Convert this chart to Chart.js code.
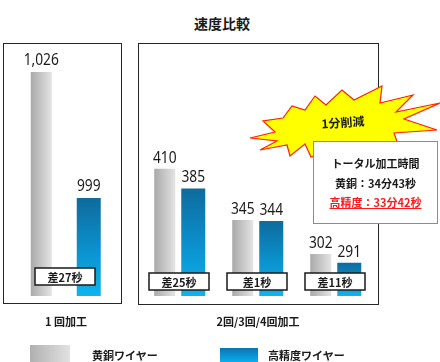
<!DOCTYPE html>
<html lang="ja">
<head>
<meta charset="utf-8">
<script src="https://cdn.jsdelivr.net/npm/chart.js@4.4.1/dist/chart.umd.min.js"></script>
<style>
  html, body { margin: 0; padding: 0; background: #fff; }
  #page { position: relative; width: 440px; height: 362px; overflow: hidden;
          font-family: "Noto Sans CJK JP", "Noto Sans", sans-serif; color: #1a1a1a; }
  .frame { position: absolute; box-sizing: border-box; border: 1.5px solid #262626; }
  .txt { position: absolute; white-space: nowrap; line-height: 1; font-weight: 700; font-size: 11px;
         transform: translate(-50%, -50%); }
  .left { transform: translate(0, -50%); }
  canvas { position: absolute; }
  #burst { position: absolute; left: 0; top: 0; }
  #info { position: absolute; left: 313px; top: 141px; width: 125px; height: 83px; box-sizing: border-box;
          background: #fff; border: 1px solid #8c8c8c; }
  #info div { position: absolute; left: 0; width: 100%; text-align: center; font-size: 11px; font-weight: 700;
              line-height: 1; white-space: nowrap; }
  .swatch { position: absolute; }
</style>
</head>
<body>
<div id="page">
  <div class="txt" style="left:222px; top:23px; font-size:14px;">速度比較</div>

  <div class="frame" style="left:3px; top:43px; width:119px; height:261px;"></div>
  <div class="frame" style="left:138px; top:43px; width:241px; height:262px;"></div>

  <canvas id="leftChart" width="118" height="253" style="left:3px; top:43px;"></canvas>
  <canvas id="rightChart" width="240" height="253" style="left:138px; top:43px;"></canvas>

  <svg id="burst" width="440" height="362">
    <polygon fill="#ffff00" stroke="#ff2200" stroke-width="1.2" stroke-linejoin="miter"
      points="250,138 275,132 263,121 283,118 292,106 305,110 315,96 326,105 342,90 354,100 382,86 380,103 413,95 396,112 440,103 404,119 437,130 394,133 400,150 360,146 335,150 311,157 305,144 290,156 287,145 260,150 277,141"/>
    <text x="343" y="127" text-anchor="middle" font-family="Noto Sans CJK JP" font-weight="700" font-size="12"
      fill="#1a1a1a" transform="rotate(-4 343 123)">1分削減</text>
  </svg>

  <div id="info"></div>

  <div id="groupLabels"></div>
  <div id="legend"></div>
</div>

<script>
// 値（秒）
const groups = ['1 回加工', '2回/3回/4回加工'];
const seriesNames = ['黄銅ワイヤー', '高精度ワイヤー'];

const brassFirst = [1026];
const precisionFirst = [999];
const diffFirst = ['差27秒'];

const brassRepeat = [410, 345, 302];
const precisionRepeat = [385, 344, 291];
const diffRepeat = ['差25秒', '差1秒', '差11秒'];

const totalTitle = 'トータル加工時間';
const totalTimes = ['34分43秒', '33分42秒'];
const totalLabels = ['黄銅', '高精度'];

// 軸の範囲（元図は省略した縮尺）
const firstRange = [978, 1032.2];
const repeatRange = [249, 569];

const grayStops = ['#a9a9a9', '#e4e4e4'];
const blueStops = ['#0e6b9d', '#0b8fcb', '#0cb4f0'];

const barDecor = {
    id: 'barDecor',
    beforeDatasetsDraw(chart) {
        const ctx = chart.ctx;
        const bottom = chart.chartArea.bottom;
        chart.data.datasets.forEach((ds, di) => {
            chart.getDatasetMeta(di).data.forEach(bar => {
                let g;
                if (di === 0) {
                    g = ctx.createLinearGradient(bar.x - bar.width / 2, 0, bar.x + bar.width / 2, 0);
                    g.addColorStop(0, grayStops[0]);
                    g.addColorStop(1, grayStops[1]);
                } else {
                    g = ctx.createLinearGradient(0, bar.y, 0, bottom);
                    g.addColorStop(0, blueStops[0]);
                    g.addColorStop(0.5, blueStops[1]);
                    g.addColorStop(1, blueStops[2]);
                }
                bar.options = Object.assign({}, bar.options, { backgroundColor: g });
            });
        });
    },
    afterDatasetsDraw(chart, args, opts) {
        const ctx = chart.ctx;
        ctx.save();
        ctx.fillStyle = '#1a1a1a';
        ctx.textAlign = 'center';
        ctx.textBaseline = 'alphabetic';
        ctx.font = '16px "Noto Sans"';
        chart.data.datasets.forEach((ds, di) => {
            chart.getDatasetMeta(di).data.forEach((bar, i) => {
                // 数字はやや細めに
                ctx.save();
                ctx.translate(bar.x, bar.y - opts.gap);
                ctx.scale(0.86, 1);
                ctx.fillText(ds.data[i].toLocaleString('en-US'), 0, 0);
                ctx.restore();
            });
        });
        // 差分ラベル
        const m0 = chart.getDatasetMeta(0).data;
        const m1 = chart.getDatasetMeta(1).data;
        chart.data.labels.forEach((lab, i) => {
            const cx = (m0[i].x + m1[i].x) / 2;
            const w = 60, h = 17;
            ctx.fillStyle = '#fff';
            ctx.fillRect(cx - w / 2, opts.boxTop, w, h);
            ctx.lineWidth = 1.5;
            ctx.strokeStyle = '#1a1a1a';
            ctx.strokeRect(cx - w / 2, opts.boxTop, w, h);
            ctx.fillStyle = '#1a1a1a';
            ctx.font = 'bold 11px "Noto Sans CJK JP"';
            ctx.textBaseline = 'middle';
            ctx.fillText(lab, cx, opts.boxTop + h / 2 + 1);
        });
        ctx.restore();
    }
};

function createComparisonChart(canvasId, brass, precision, diffs, range, layout) {
    new Chart(document.getElementById(canvasId), {
        type: 'bar',
        data: {
            labels: diffs,
            datasets: [{
                label: seriesNames[0],
                data: brass,
                backgroundColor: grayStops[1],
                categoryPercentage: layout.catPct,
                barPercentage: layout.brassPct
            }, {
                label: seriesNames[1],
                data: precision,
                backgroundColor: blueStops[1],
                categoryPercentage: layout.catPct,
                barPercentage: layout.precPct
            }]
        },
        options: {
            responsive: false,
            animation: false,
            events: [],
            layout: { padding: layout.padding },
            scales: {
                x: { display: false },
                y: { display: false, min: range[0], max: range[1] }
            },
            plugins: {
                legend: { display: false },
                tooltip: { enabled: false },
                barDecor: { gap: layout.gap, boxTop: layout.boxTop }
            }
        },
        plugins: [barDecor]
    });
}

createComparisonChart('leftChart', brassFirst, precisionFirst, diffFirst, firstRange, {
    catPct: 0.848, brassPct: 0.442, precPct: 0.505,
    padding: { left: 6, right: 0, top: 0, bottom: 0 },
    gap: 7, boxTop: 225
});
createComparisonChart('rightChart', brassRepeat, precisionRepeat, diffRepeat, repeatRange, {
    catPct: 0.731, brassPct: 0.737, precPct: 0.842,
    padding: { left: 2, right: 4, top: 0, bottom: 0 },
    gap: 6, boxTop: 230
});

// 集計ボックス
const info = document.getElementById('info');
const infoLines = [
    { text: totalTitle, top: 22, color: '#1a1a1a' },
    { text: totalLabels[0] + '：' + totalTimes[0], top: 42, color: '#1a1a1a' },
    { text: totalLabels[1] + '：' + totalTimes[1], top: 61, color: '#ff1a1a', underline: true }
];
infoLines.forEach(l => {
    const d = document.createElement('div');
    d.textContent = l.text;
    d.style.top = (l.top - 6) + 'px';
    d.style.color = l.color;
    if (l.underline) d.style.textDecoration = 'underline';
    info.appendChild(d);
});

// グループ名
const groupCenters = [66, 258];
const gl = document.getElementById('groupLabels');
groups.forEach((g, i) => {
    const d = document.createElement('div');
    d.className = 'txt';
    d.textContent = g;
    d.style.left = groupCenters[i] + 'px';
    d.style.top = '321px';
    gl.appendChild(d);
});

// 凡例
const legendBoxes = [
    { x: 30, y: 345, w: 40, h: 17, bg: 'linear-gradient(to right, #b0b0b0, #e2e2e2)', tx: 92 },
    { x: 220, y: 348, w: 38, h: 14, bg: 'linear-gradient(to bottom, #0a74b4, #0aaeee)', tx: 268 }
];
const lg = document.getElementById('legend');
seriesNames.forEach((name, i) => {
    const b = legendBoxes[i];
    const s = document.createElement('div');
    s.className = 'swatch';
    s.style.cssText = `left:${b.x}px; top:${b.y}px; width:${b.w}px; height:${b.h}px; background:${b.bg};`;
    lg.appendChild(s);
    const t = document.createElement('div');
    t.className = 'txt left';
    t.textContent = name;
    t.style.left = b.tx + 'px';
    t.style.top = '355px';
    lg.appendChild(t);
});
</script>
</body>
</html>
